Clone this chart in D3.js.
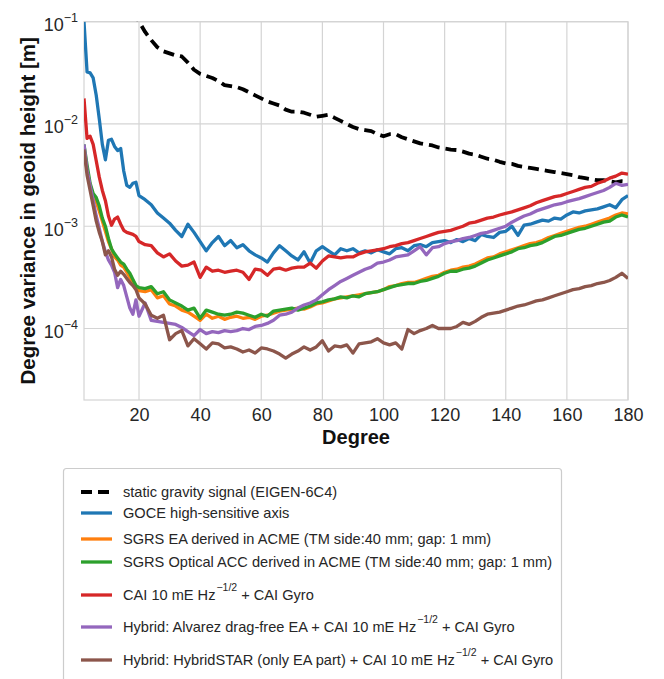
<!DOCTYPE html>
<html>
<head>
<meta charset="utf-8">
<script src="https://cdn.jsdelivr.net/npm/d3@7"></script>
<style>
  body { margin: 0; background: #fff; }
  svg { font-family: "Liberation Sans", Arial, sans-serif; }
</style>
</head>
<body>
<svg id="chart" width="664" height="679"></svg>
<script>
// ---- Data (values are log10 of degree variance in geoid height [m]) ----
const degrees = [2,3,4,5,6,7,8,9,10,11,12,13,14,15,16,17,18,19,20,
  22,24,26,28,30,32,34,36,38,40,42,44,46,48,50,52,54,56,58,60,62,64,66,68,70,72,74,76,78,80,
  82,84,86,88,90,92,94,96,98,100,102,104,106,108,110,112,114,116,118,120,122,124,126,128,130,
  132,134,136,138,140,142,144,146,148,150,152,154,156,158,160,162,164,166,168,170,172,174,176,178,180];

const staticSignalLog = [null,null,null,null,null,null,null,null,null,null,null,null,null,null,null,null,-0.90,-0.95,-1.00,
  -1.10,-1.18,-1.25,-1.29,-1.31,-1.33,-1.34,-1.40,-1.47,-1.51,-1.53,-1.55,-1.58,-1.62,-1.63,-1.64,-1.66,-1.69,-1.72,-1.75,-1.78,-1.80,-1.82,-1.86,-1.88,-1.88,-1.89,-1.91,-1.93,-1.92,
  -1.91,-1.94,-1.97,-2.00,-2.03,-2.05,-2.06,-2.07,-2.10,-2.12,-2.10,-2.10,-2.13,-2.15,-2.17,-2.19,-2.20,-2.21,-2.23,-2.24,-2.25,-2.255,-2.27,-2.29,-2.30,
  -2.32,-2.34,-2.35,-2.37,-2.385,-2.39,-2.41,-2.42,-2.43,-2.44,-2.45,-2.46,-2.47,-2.48,-2.49,-2.50,-2.52,-2.53,-2.54,-2.55,-2.55,-2.56,-2.57,-2.56,-2.565];

const goceLog = [-1.00,-1.49,-1.50,-1.55,-1.72,-1.95,-2.20,-2.35,-2.16,-2.15,-2.22,-2.26,-2.24,-2.46,-2.60,-2.62,-2.58,-2.57,-2.70,
  -2.74,-2.79,-2.87,-2.92,-2.97,-3.04,-3.10,-2.98,-3.06,-3.15,-3.24,-3.16,-3.10,-3.19,-3.14,-3.21,-3.18,-3.24,-3.28,-3.31,-3.35,-3.26,-3.19,-3.24,-3.29,-3.33,-3.25,-3.36,-3.24,-3.20,
  -3.24,-3.28,-3.22,-3.24,-3.22,-3.26,-3.24,-3.26,-3.23,-3.25,-3.27,-3.22,-3.21,-3.24,-3.19,-3.18,-3.20,-3.16,-3.15,-3.14,-3.16,-3.13,-3.15,-3.12,-3.14,
  -3.08,-3.10,-3.11,-3.06,-3.05,-3.00,-3.09,-2.99,-2.98,-2.96,-2.94,-2.95,-2.92,-2.93,-2.89,-2.86,-2.87,-2.85,-2.84,-2.83,-2.81,-2.79,-2.82,-2.74,-2.70];

const sgrsEaLog = [-2.25,-2.45,-2.60,-2.70,-2.76,-2.85,-2.95,-3.05,-3.15,-3.22,-3.30,-3.33,-3.38,-3.40,-3.45,-3.50,-3.55,-3.60,-3.63,
  -3.64,-3.62,-3.70,-3.68,-3.76,-3.78,-3.82,-3.84,-3.88,-3.92,-3.86,-3.90,-3.88,-3.91,-3.89,-3.88,-3.90,-3.89,-3.91,-3.88,-3.87,-3.85,-3.83,-3.82,-3.81,-3.80,-3.81,-3.79,-3.76,-3.75,
  -3.73,-3.71,-3.70,-3.69,-3.68,-3.67,-3.66,-3.65,-3.64,-3.62,-3.59,-3.58,-3.56,-3.55,-3.55,-3.53,-3.51,-3.49,-3.48,-3.45,-3.43,-3.42,-3.40,-3.39,-3.37,
  -3.34,-3.31,-3.30,-3.27,-3.25,-3.23,-3.21,-3.19,-3.17,-3.16,-3.14,-3.11,-3.09,-3.07,-3.05,-3.03,-3.01,-3.00,-2.98,-2.96,-2.94,-2.92,-2.89,-2.87,-2.88];

const sgrsOpticalLog = [-2.20,-2.40,-2.58,-2.68,-2.72,-2.80,-2.92,-3.00,-3.12,-3.22,-3.27,-3.31,-3.35,-3.37,-3.42,-3.46,-3.52,-3.58,-3.60,
  -3.61,-3.59,-3.66,-3.64,-3.72,-3.75,-3.78,-3.82,-3.80,-3.90,-3.82,-3.84,-3.86,-3.87,-3.86,-3.84,-3.85,-3.87,-3.89,-3.86,-3.88,-3.83,-3.82,-3.81,-3.80,-3.82,-3.80,-3.78,-3.75,-3.74,
  -3.72,-3.71,-3.69,-3.70,-3.68,-3.69,-3.66,-3.65,-3.64,-3.62,-3.60,-3.58,-3.57,-3.56,-3.56,-3.54,-3.53,-3.51,-3.49,-3.46,-3.44,-3.44,-3.42,-3.41,-3.39,
  -3.36,-3.33,-3.31,-3.29,-3.27,-3.25,-3.22,-3.21,-3.19,-3.18,-3.16,-3.13,-3.10,-3.09,-3.07,-3.05,-3.03,-3.02,-3.00,-2.98,-2.96,-2.95,-2.91,-2.89,-2.91];

const caiLog = [-1.75,-2.14,-2.12,-2.20,-2.36,-2.52,-2.65,-2.75,-2.90,-2.99,-2.93,-2.91,-2.98,-3.04,-3.06,-3.07,-3.08,-3.10,-3.15,
  -3.18,-3.19,-3.26,-3.30,-3.27,-3.34,-3.39,-3.38,-3.35,-3.50,-3.40,-3.44,-3.43,-3.45,-3.44,-3.43,-3.45,-3.52,-3.42,-3.43,-3.48,-3.42,-3.41,-3.43,-3.41,-3.40,-3.40,-3.36,-3.41,-3.34,
  -3.29,-3.30,-3.31,-3.30,-3.30,-3.27,-3.25,-3.24,-3.23,-3.22,-3.20,-3.19,-3.17,-3.16,-3.14,-3.12,-3.10,-3.08,-3.06,-3.05,-3.04,-3.02,-3.00,-2.97,-2.96,
  -2.94,-2.92,-2.91,-2.89,-2.875,-2.86,-2.84,-2.82,-2.80,-2.77,-2.75,-2.73,-2.71,-2.70,-2.68,-2.66,-2.64,-2.62,-2.61,-2.58,-2.56,-2.53,-2.51,-2.48,-2.49];

const hybridAlvarezLog = [-2.20,-2.45,-2.60,-2.75,-2.90,-3.02,-3.15,-3.25,-3.33,-3.38,-3.45,-3.60,-3.52,-3.58,-3.69,-3.80,-3.86,-3.72,-3.88,
  -3.75,-3.92,-3.93,-3.94,-3.95,-3.96,-3.99,-4.03,-4.07,-4.01,-4.05,-4.03,-4.04,-4.02,-4.03,-4.02,-4.00,-4.01,-3.98,-3.97,-3.95,-3.92,-3.87,-3.86,-3.84,-3.80,-3.77,-3.75,-3.72,-3.67,
  -3.62,-3.58,-3.54,-3.51,-3.48,-3.45,-3.42,-3.40,-3.36,-3.35,-3.33,-3.30,-3.29,-3.28,-3.24,-3.20,-3.28,-3.21,-3.20,-3.17,-3.15,-3.14,-3.12,-3.11,-3.09,
  -3.07,-3.06,-3.04,-3.02,-3.00,-2.96,-2.93,-2.90,-2.88,-2.85,-2.83,-2.81,-2.79,-2.78,-2.76,-2.745,-2.73,-2.71,-2.69,-2.67,-2.65,-2.62,-2.58,-2.60,-2.59];

const hybridStarLog = [-2.25,-2.50,-2.65,-2.80,-2.95,-3.06,-3.15,-3.28,-3.24,-3.30,-3.42,-3.48,-3.44,-3.47,-3.51,-3.55,-3.58,-3.62,-3.70,
  -3.76,-3.87,-3.90,-3.87,-4.11,-4.05,-4.02,-4.17,-4.10,-4.15,-4.20,-4.14,-4.15,-4.19,-4.18,-4.20,-4.23,-4.21,-4.24,-4.19,-4.20,-4.22,-4.25,-4.29,-4.25,-4.22,-4.18,-4.21,-4.18,-4.12,
  -4.22,-4.17,-4.18,-4.16,-4.24,-4.15,-4.14,-4.13,-4.10,-4.14,-4.16,-4.14,-4.20,-4.01,-4.05,-4.02,-4.00,-3.97,-4.00,-4.00,-4.00,-3.98,-3.94,-3.96,-3.93,
  -3.89,-3.86,-3.85,-3.84,-3.82,-3.80,-3.78,-3.77,-3.75,-3.73,-3.72,-3.70,-3.68,-3.66,-3.64,-3.62,-3.61,-3.59,-3.58,-3.56,-3.55,-3.53,-3.50,-3.46,-3.51];

const seriesNames = [
  "static gravity signal (EIGEN-6C4)",
  "GOCE high-sensitive axis",
  "SGRS EA derived in ACME (TM side:40 mm; gap: 1 mm)",
  "SGRS Optical ACC derived in ACME (TM side:40 mm; gap: 1 mm)",
  "CAI 10 mE Hz|−1/2| + CAI Gyro",
  "Hybrid: Alvarez drag-free EA + CAI 10 mE Hz|−1/2| + CAI Gyro",
  "Hybrid: HybridSTAR (only EA part) + CAI 10 mE Hz|−1/2| + CAI Gyro"
];
const seriesColors = ["#000000", "#1f77b4", "#ff7f0e", "#2ca02c", "#d62728", "#9467bd", "#8c564b"];
const xTicks = [20, 40, 60, 80, 100, 120, 140, 160, 180];
const yTicks = [-4, -3, -2, -1];   // exponents of 10

// ---- Chart ----
const svg = d3.select("#chart");
const margin = { left: 84, right: 36, top: 21.7, bottom: 279 };
const W = 664, H = 679;
const x = d3.scaleLinear().domain([2, 180]).range([margin.left, W - margin.right]);
const y = d3.scaleLog().domain([2e-5, 0.1]).range([H - margin.bottom, margin.top]);

const gridColor = "#d4d4d4";
const textColor = "#262626";

// gridlines
svg.append("g").selectAll("line").data(xTicks).join("line")
  .attr("x1", d => x(d)).attr("x2", d => x(d))
  .attr("y1", y.range()[0]).attr("y2", y.range()[1])
  .attr("stroke", gridColor).attr("stroke-width", 1.2);
svg.append("g").selectAll("line").data(yTicks).join("line")
  .attr("x1", x.range()[0]).attr("x2", x.range()[1])
  .attr("y1", d => y(Math.pow(10, d))).attr("y2", d => y(Math.pow(10, d)))
  .attr("stroke", gridColor).attr("stroke-width", 1.2);

// frame
svg.append("rect")
  .attr("x", x.range()[0]).attr("y", y.range()[1])
  .attr("width", x.range()[1] - x.range()[0]).attr("height", y.range()[0] - y.range()[1])
  .attr("fill", "none").attr("stroke", gridColor).attr("stroke-width", 1.2);

// x axis labels via d3 axis
const xAxis = svg.append("g")
  .attr("transform", `translate(0,${y.range()[0]})`)
  .call(d3.axisBottom(x).tickValues(xTicks).tickSize(0).tickPadding(8));
xAxis.select(".domain").remove();
xAxis.selectAll("text").attr("font-size", 18).attr("fill", textColor)
  .attr("font-family", "Liberation Sans, Arial, sans-serif");

// y axis labels: 10^n
const yAxis = svg.append("g")
  .attr("transform", `translate(${x.range()[0]},0)`)
  .call(d3.axisLeft(y).tickValues(yTicks.map(e => Math.pow(10, e))).tickSize(0).tickPadding(6).tickFormat(""));
yAxis.select(".domain").remove();
yAxis.selectAll(".tick").each(function(d) {
  const e = Math.round(Math.log10(d));
  const t = d3.select(this).select("text")
    .attr("font-size", 18).attr("fill", textColor).attr("dy", "0.5em")
    .attr("font-family", "Liberation Sans, Arial, sans-serif");
  t.append("tspan").text("10");
  t.append("tspan").attr("dy", -9).attr("font-size", 12.5).text("−" + Math.abs(e));
});

// axis titles
svg.append("text")
  .attr("x", (x.range()[0] + x.range()[1]) / 2).attr("y", 444)
  .attr("text-anchor", "middle").attr("font-weight", "bold").attr("font-size", 20)
  .attr("fill", "#111").text("Degree");
svg.append("text")
  .attr("transform", `translate(35,${(y.range()[0] + y.range()[1]) / 2}) rotate(-90)`)
  .attr("text-anchor", "middle").attr("font-weight", "bold").attr("font-size", 20.5)
  .attr("fill", "#111").text("Degree variance in geoid height [m]");

// clip
svg.append("clipPath").attr("id", "plotclip").append("rect")
  .attr("x", x.range()[0]).attr("y", y.range()[1])
  .attr("width", x.range()[1] - x.range()[0]).attr("height", y.range()[0] - y.range()[1]);

const allLogs = [staticSignalLog, goceLog, sgrsEaLog, sgrsOpticalLog, caiLog, hybridAlvarezLog, hybridStarLog];
const line = d3.line()
  .defined(d => d[1] !== null)
  .x(d => x(d[0]))
  .y(d => y(Math.pow(10, d[1])));

const lines = svg.append("g").attr("clip-path", "url(#plotclip)");
allLogs.forEach((arr, i) => {
  const pts = degrees.map((deg, k) => [deg, arr[k]]);
  lines.append("path")
    .datum(pts)
    .attr("d", line)
    .attr("fill", "none")
    .attr("stroke", seriesColors[i])
    .attr("stroke-width", i === 0 ? 3.8 : 3.3)
    .attr("stroke-linejoin", "round")
    .attr("stroke-dasharray", i === 0 ? "11,6" : null);
});

// legend
const lg = svg.append("g");
lg.append("rect")
  .attr("x", 63.5).attr("y", 468.5).attr("width", 498).attr("height", 230)
  .attr("rx", 3).attr("fill", "#fff").attr("stroke", "#cccccc").attr("stroke-width", 1.2);
const legendY = [492, 513, 539, 562, 595, 627, 660];
seriesNames.forEach((name, i) => {
  const yy = legendY[i];
  lg.append("line")
    .attr("x1", 81).attr("x2", 112).attr("y1", yy).attr("y2", yy)
    .attr("stroke", seriesColors[i]).attr("stroke-width", i === 0 ? 3.8 : 3.3)
    .attr("stroke-dasharray", i === 0 ? "11,6" : null);
  const t = lg.append("text")
    .attr("x", 123).attr("y", yy).attr("dy", "0.36em")
    .attr("font-size", 14.6).attr("fill", textColor);
  const parts = name.split("|");
  t.append("tspan").text(parts[0]);
  if (parts.length > 1) {
    t.append("tspan").attr("dy", -9).attr("dx", 1).attr("font-size", 10.5).text(parts[1]);
    t.append("tspan").attr("dy", 9).text(parts[2]);
  }
});
</script>
</body>
</html>
